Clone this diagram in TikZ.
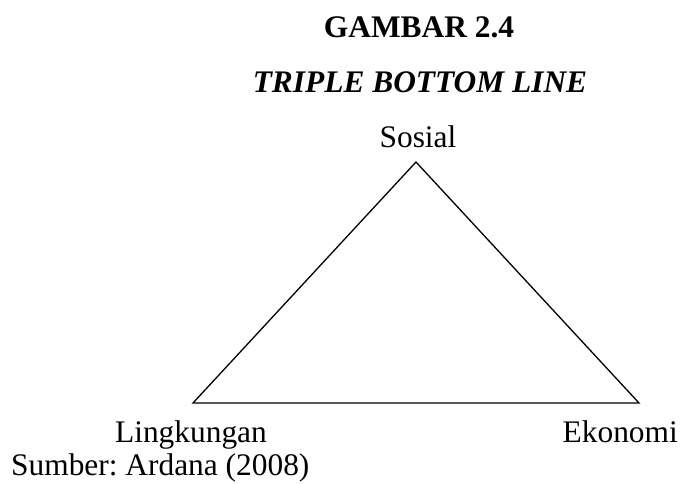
\documentclass[tikz,border=0pt]{standalone}
\usepackage{fontspec}
\setmainfont{Liberation Serif}
\usetikzlibrary{positioning}
\tikzset{every node/.style={font=\fontsize{31.4}{36}\selectfont\frenchspacing, inner sep=0pt}}

\begin{document}
\begin{tikzpicture}[x=1pt, y=-1pt, lbl/.style={anchor=base}, sisi/.style={line width=1.3pt, line join=miter}]
    \useasboundingbox (0,0) rectangle (681,483);
    % judul
    \node[lbl, font=\fontsize{31.4}{36}\selectfont\bfseries] (gambar) at (419,37) {GAMBAR 2.4};
    \node[lbl, font=\fontsize{31.4}{36}\selectfont\bfseries\itshape] (tbl) at (420,92) {TRIPLE BOTTOM LINE};
    % segitiga
    \coordinate (atas) at (416,162);
    \coordinate (kiri) at (193,403);
    \coordinate (kanan) at (639,403);
    \draw[sisi] (atas) -- (kiri) -- (kanan) -- cycle;
    \node[lbl] (sosial) at (418,147) {Sosial};
    \node[lbl] (lingk) at (191,442) {Lingkungan};
    \node[lbl, anchor=base east] (ekonomi) at (678,442) {Ekonomi};
    \node[lbl, anchor=base west] (sumber) at (11,475) {Sumber: Ardana (2008)};
  \end{tikzpicture}
\end{document}
